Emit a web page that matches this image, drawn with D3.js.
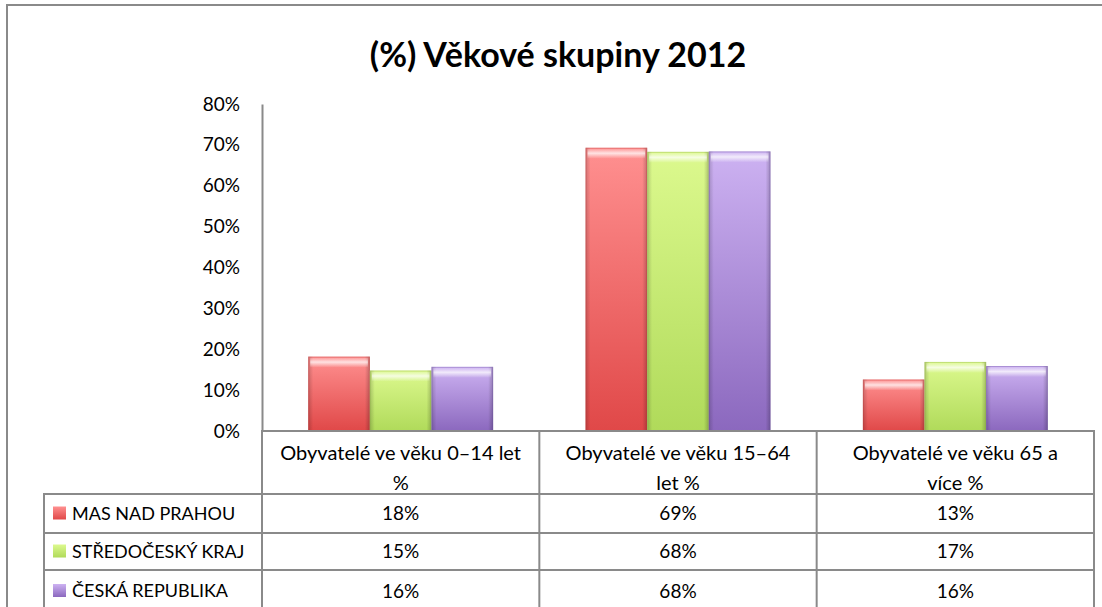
<!DOCTYPE html>
<html>
<head>
<meta charset="utf-8">
<script src="https://cdn.jsdelivr.net/npm/d3@7"></script>
<style>
  body { margin: 0; background: #fff; }
  svg { display: block; font-family: Lato, "Open Sans", sans-serif; }
</style>
</head>
<body>
<svg id="chart" width="1102" height="607"></svg>
<script>
// data
const categories = ["0-14", "15-64", "65+"]
const categoryLines = [
  ["Obyvatelé ve věku 0–14 let", "%"],
  ["Obyvatelé ve věku 15–64", "let %"],
  ["Obyvatelé ve věku 65 a", "více %"]
]
const seriesNames = ["MAS NAD PRAHOU", "STŘEDOČESKÝ KRAJ", "ČESKÁ REPUBLIKA"]
const masValues = [0.182, 0.693, 0.126]
const krajValues = [0.148, 0.683, 0.169]
const crValues = [0.157, 0.684, 0.159]
const yTicks = [0, 0.1, 0.2, 0.3, 0.4, 0.5, 0.6, 0.7, 0.8]
const titleText = "(%) Věkové skupiny 2012"

const seriesValues = [masValues, krajValues, crValues]
const colors = [
  { top: "#ff9090", bottom: "#e04848", edge: "#b83c3c" },
  { top: "#dcf98e", bottom: "#b0da5a", edge: "#8fb048" },
  { top: "#cdb2f2", bottom: "#8b68be", edge: "#6e52a0" }
]

const svg = d3.select("#chart")
const gridColor = "#8a8a8a"

const plotLeft = 262, plotRight = 1094
const tableTop = 431, headerBottom = 494
const rowLines = [494, 533, 570, 612]
const legendLeft = 44

const x0 = d3.scaleBand().domain(categories).range([plotLeft, plotRight])
const x1 = d3.scaleBand().domain(seriesNames).range([0, x0.bandwidth()]).paddingOuter(0.75)
const y = d3.scaleLinear().domain([0, 0.8]).range([tableTop, 104])

// gradients
const defs = svg.append("defs")
colors.forEach((c, i) => {
  const g = defs.append("linearGradient").attr("id", "fill" + i)
    .attr("x1", 0).attr("y1", 0).attr("x2", 0).attr("y2", 1)
  g.append("stop").attr("offset", "0%").attr("stop-color", c.top)
  g.append("stop").attr("offset", "100%").attr("stop-color", c.bottom)
})
const side = defs.append("linearGradient").attr("id", "side")
  .attr("x1", 0).attr("y1", 0).attr("x2", 1).attr("y2", 0)
side.append("stop").attr("offset", "0%").attr("stop-color", "#000").attr("stop-opacity", 0.18)
side.append("stop").attr("offset", "8%").attr("stop-color", "#000").attr("stop-opacity", 0)
side.append("stop").attr("offset", "92%").attr("stop-color", "#000").attr("stop-opacity", 0)
side.append("stop").attr("offset", "100%").attr("stop-color", "#000").attr("stop-opacity", 0.22)
const shine = defs.append("linearGradient").attr("id", "shine")
  .attr("x1", 0).attr("y1", 0).attr("x2", 0).attr("y2", 1)
shine.append("stop").attr("offset", "0%").attr("stop-color", "#fff").attr("stop-opacity", 0.1)
shine.append("stop").attr("offset", "45%").attr("stop-color", "#fff").attr("stop-opacity", 0.75)
shine.append("stop").attr("offset", "100%").attr("stop-color", "#fff").attr("stop-opacity", 0)

// outer frame
svg.append("path")
  .attr("d", "M7,612 L7,5 L1110,5")
  .attr("fill", "none").attr("stroke", gridColor).attr("stroke-width", 2)

// title
svg.append("text")
  .attr("x", 558).attr("y", 67)
  .attr("text-anchor", "middle")
  .attr("font-size", 34).attr("font-weight", "bold").attr("fill", "#000")
  .text(titleText)

// y axis
const yAxis = d3.axisLeft(y).tickValues(yTicks).tickFormat(d3.format(".0%")).tickSize(0).tickPadding(22)
const ya = svg.append("g").attr("transform", `translate(${plotLeft},0)`).call(yAxis)
ya.select(".domain").attr("stroke", gridColor).attr("stroke-width", 2)
ya.selectAll("text").attr("font-size", 19).attr("fill", "#000").attr("font-family", "Lato, sans-serif")

// bars
const bars = svg.append("g")
seriesNames.forEach((s, si) => {
  const g = bars.append("g")
  categories.forEach((c, ci) => {
    const v = seriesValues[si][ci]
    const bx = x0(c) + x1(s), bw = x1.bandwidth()
    const by = y(v), bh = y(0) - y(v)
    g.append("rect").attr("x", bx).attr("y", by).attr("width", bw).attr("height", bh)
      .attr("fill", `url(#fill${si})`)
    g.append("rect").attr("x", bx).attr("y", by).attr("width", bw).attr("height", bh)
      .attr("fill", "url(#side)")
    g.append("rect").attr("x", bx + 2).attr("y", by + 1).attr("width", bw - 4).attr("height", Math.min(10, bh))
      .attr("fill", "url(#shine)")
    g.append("rect").attr("x", bx + 0.5).attr("y", by + 0.5).attr("width", bw - 1).attr("height", bh - 1)
      .attr("fill", "none").attr("stroke", colors[si].edge).attr("stroke-opacity", 0.35)
  })
})

// data table
const table = svg.append("g")
const lineAttrs = sel => sel.attr("stroke", gridColor).attr("stroke-width", 2)

// horizontal lines
table.append("line").attr("x1", plotLeft - 1).attr("x2", plotRight + 1).attr("y1", tableTop).attr("y2", tableTop).call(lineAttrs)
rowLines.slice(0, 3).forEach(ry => {
  table.append("line").attr("x1", legendLeft - 1).attr("x2", plotRight + 1).attr("y1", ry).attr("y2", ry).call(lineAttrs)
})
// vertical lines
table.append("line").attr("x1", legendLeft).attr("x2", legendLeft).attr("y1", headerBottom - 1).attr("y2", 612).call(lineAttrs)
categories.forEach(c => {
  table.append("line").attr("x1", x0(c)).attr("x2", x0(c)).attr("y1", tableTop).attr("y2", 612).call(lineAttrs)
})
table.append("line").attr("x1", plotRight).attr("x2", plotRight).attr("y1", tableTop - 1).attr("y2", 612).call(lineAttrs)

// header text
categories.forEach((c, ci) => {
  const t = table.append("text")
    .attr("x", x0(c) + x0.bandwidth() / 2).attr("y", 460)
    .attr("text-anchor", "middle").attr("font-size", 20).attr("fill", "#000")
  categoryLines[ci].forEach((ln, li) => {
    t.append("tspan").attr("x", x0(c) + x0.bandwidth() / 2).attr("dy", li === 0 ? 0 : 30).text(ln)
  })
})

// rows
const pct = d3.format(".0%")
seriesNames.forEach((s, si) => {
  const cy = (rowLines[si] + rowLines[si + 1]) / 2
  table.append("rect").attr("x", 53).attr("y", cy - 7).attr("width", 13).attr("height", 13)
    .attr("fill", `url(#fill${si})`)
  table.append("text").attr("x", 72).attr("y", cy).attr("dy", "0.35em")
    .attr("font-size", 18).attr("fill", "#000").text(s)
  categories.forEach((c, ci) => {
    table.append("text")
      .attr("x", x0(c) + x0.bandwidth() / 2).attr("y", cy).attr("dy", "0.35em")
      .attr("text-anchor", "middle").attr("font-size", 19).attr("fill", "#000")
      .text(pct(seriesValues[si][ci]))
  })
})
</script>
</body>
</html>
